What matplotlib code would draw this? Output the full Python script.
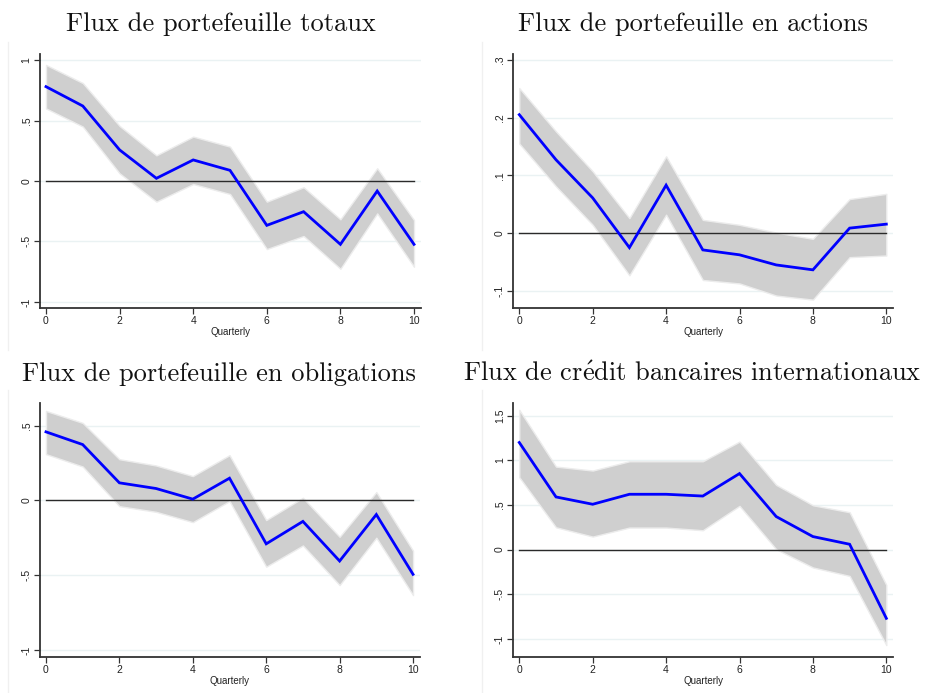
import matplotlib
matplotlib.use("Agg")
import matplotlib.pyplot as plt
from matplotlib.lines import Line2D

plt.rcParams["mathtext.fontset"] = "cm"

# Horizon (quarters after the shock)
quarters = list(range(11))

# Impulse responses and confidence bands for each type of flow
titles = [
    "Flux de portefeuille totaux",
    "Flux de portefeuille en actions",
    "Flux de portefeuille en obligations",
    "Flux de crédit bancaires internationaux",
]

total_irf = [0.78, 0.62, 0.257, 0.022, 0.174, 0.088, -0.367, -0.254, -0.524, -0.083, -0.524]
total_hi = [0.96, 0.81, 0.455, 0.212, 0.367, 0.284, -0.171, -0.052, -0.317, 0.105, -0.323]
total_lo = [0.60, 0.45, 0.063, -0.171, -0.025, -0.108, -0.563, -0.455, -0.726, -0.268, -0.709]

equity_irf = [0.205, 0.127, 0.061, -0.025, 0.083, -0.029, -0.0375, -0.055, -0.0635, 0.0087, 0.0156]
equity_hi = [0.251, 0.176, 0.107, 0.026, 0.133, 0.023, 0.0144, 0.001, -0.0098, 0.059, 0.068]
equity_lo = [0.155, 0.081, 0.0144, -0.073, 0.032, -0.081, -0.087, -0.108, -0.115, -0.0415, -0.0387]

bond_irf = [0.459, 0.374, 0.118, 0.080, 0.009, 0.149, -0.290, -0.140, -0.405, -0.094, -0.494]
bond_hi = [0.599, 0.519, 0.276, 0.234, 0.163, 0.303, -0.131, 0.018, -0.243, 0.056, -0.336]
bond_lo = [0.310, 0.227, -0.038, -0.076, -0.145, -0.004, -0.443, -0.301, -0.566, -0.249, -0.633]

bank_irf = [1.20, 0.59, 0.508, 0.62, 0.62, 0.60, 0.852, 0.37, 0.146, 0.06, -0.77]
bank_hi = [1.566, 0.93, 0.886, 0.99, 0.99, 0.99, 1.21, 0.725, 0.497, 0.419, -0.396]
bank_lo = [0.811, 0.25, 0.146, 0.247, 0.247, 0.217, 0.49, 0.004, -0.20, -0.295, -1.07]

# Axis ticks
x_ticks = [0, 2, 4, 6, 8, 10]
y_ticks = [
    [-1, -0.5, 0, 0.5, 1],
    [-0.1, 0, 0.1, 0.2, 0.3],
    [-1, -0.5, 0, 0.5],
    [-1, -0.5, 0, 0.5, 1, 1.5],
]
y_ticklabels = [
    ["-1", "-.5", "0", ".5", "1"],
    ["-.1", "0", ".1", ".2", ".3"],
    ["-1", "-.5", "0", ".5"],
    ["-1", "-.5", "0", ".5", "1", "1.5"],
]
y_limits = [(-1.048, 1.05), (-0.129, 0.31), (-1.045, 0.654), (-1.2, 1.646)]

series = [
    (total_irf, total_lo, total_hi),
    (equity_irf, equity_lo, equity_hi),
    (bond_irf, bond_lo, bond_hi),
    (bank_irf, bank_lo, bank_hi),
]

W, H = 925, 693
fig = plt.figure(figsize=(W / 100, H / 100), dpi=100)
fig.patch.set_facecolor("white")

# Panel boxes in pixels: left, top, right, bottom
boxes = [
    (40, 54, 421, 307.7),
    (513.3, 54, 893.3, 307.7),
    (40, 402.7, 420, 656.7),
    (513.3, 402.7, 893.3, 656.7),
]
title_xy = [(221, 24), (693, 24), (219, 374), (692, 374)]

# faint borders of the individual graph regions
for x0, y0, y1 in [(8, 42, 350), (482, 42, 350), (8, 390, 693), (482, 390, 693)]:
    fig.add_artist(Line2D([x0 / W, x0 / W], [1 - y0 / H, 1 - y1 / H],
                          color="#f0f0f0", lw=1.0, transform=fig.transFigure))

sans = ["Liberation Sans", "DejaVu Sans"]
serif = ["cmr10", "DejaVu Serif"]


def tex_accents(s):
    # cmr10 has no precomposed accented letters: build them with mathtext
    return s.replace("é", r"$\mathrm{\acute{e}}$")


for i, ((irf, lo, hi), box) in enumerate(zip(series, boxes)):
    l, t, r, b = box
    ax = fig.add_axes([l / W, 1 - b / H, (r - l) / W, (b - t) / H])
    ax.set_xlim(-0.163, 10.19)
    ax.set_ylim(*y_limits[i])

    for yt in y_ticks[i]:
        ax.axhline(yt, color="#eaf2f3", lw=1.0, zorder=0)

    ax.fill_between(quarters, lo, hi, color="#cfcfcf", edgecolor="#ececec",
                    lw=1.0, zorder=1)
    ax.plot([quarters[0], quarters[-1]], [0, 0], color="#2a2a2a", lw=1.0, zorder=2)
    ax.plot(quarters, irf, color="#0000ff", lw=2.0, zorder=3,
            solid_joinstyle="miter")

    for side in ("top", "right"):
        ax.spines[side].set_visible(False)
    for side in ("left", "bottom"):
        ax.spines[side].set_color("#333333")
        ax.spines[side].set_linewidth(1.3)

    ax.set_xticks(x_ticks)
    ax.set_xticklabels([str(v) for v in x_ticks], fontfamily=sans, fontsize=7.5)
    ax.set_yticks(y_ticks[i])
    ax.set_yticklabels(y_ticklabels[i], fontfamily=sans, fontsize=7.5,
                       rotation=90, va="center")
    ax.tick_params(axis="both", direction="out", length=4, width=0.9,
                   color="#333333", labelcolor="#222222", pad=2)
    ax.set_xlabel("Quarterly", fontfamily=sans, fontsize=7, color="#222222",
                  labelpad=1)

    tx, ty = title_xy[i]
    fig.text(tx / W, 1 - ty / H, tex_accents(titles[i]), ha="center", va="center",
             fontfamily=serif, fontsize=19, color="#111111")

fig.savefig("out.png", dpi=100, facecolor="white")
